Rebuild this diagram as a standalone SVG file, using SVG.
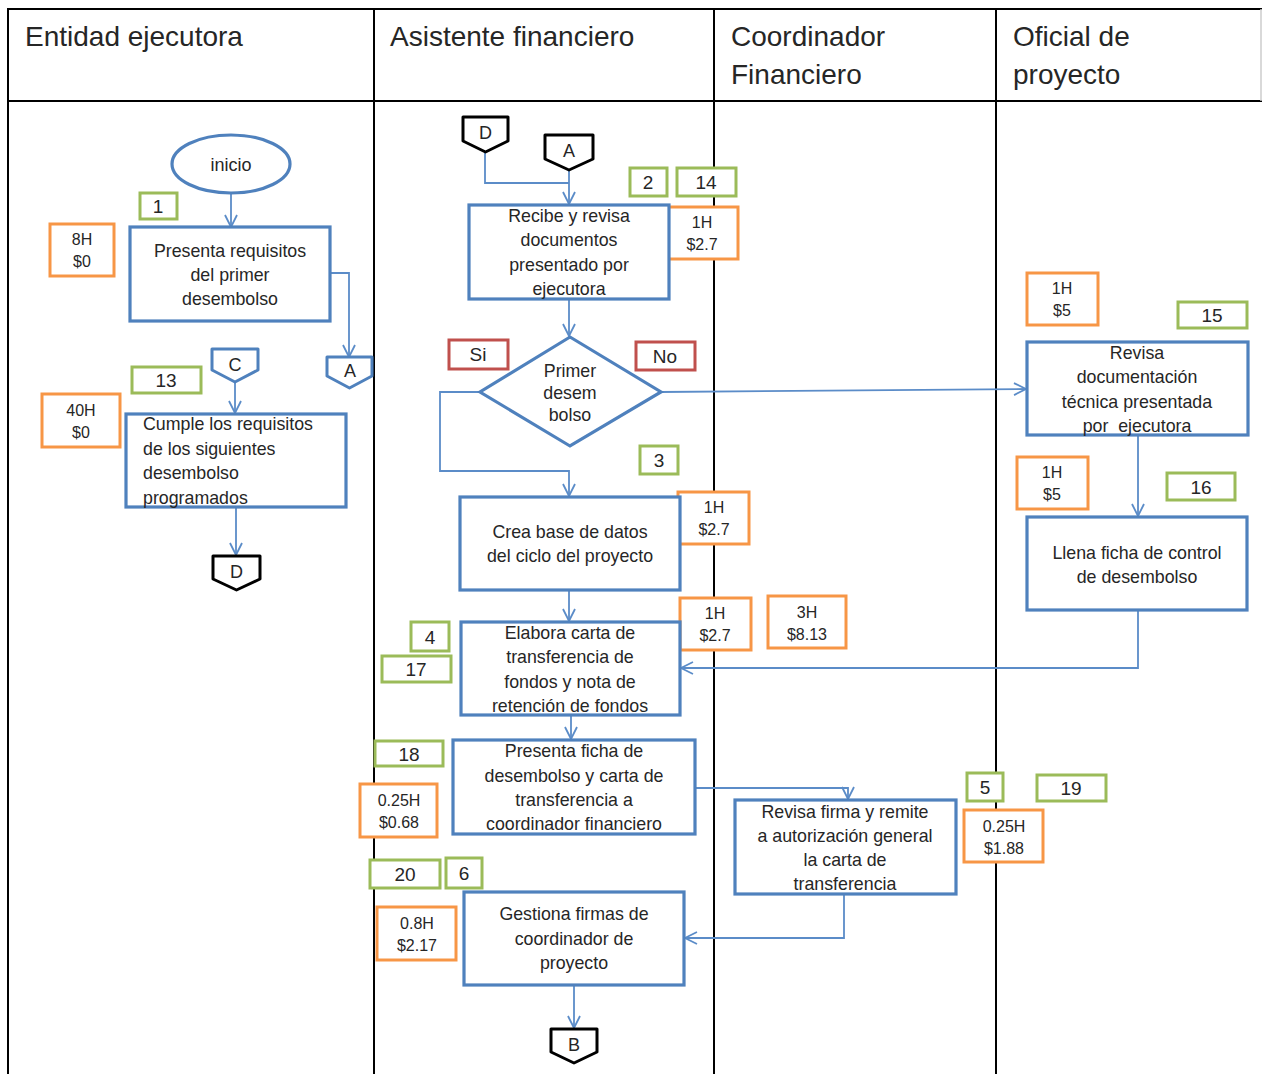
<svg xmlns="http://www.w3.org/2000/svg" width="1262" height="1074" viewBox="0 0 1262 1074">
  <style>
    .t { font-family: "Liberation Sans", Arial, sans-serif; fill: #262626; }
    .hd { font-size: 28px; }
    .bx { font-size: 17.8px; text-anchor: middle; }
    .bl { font-size: 17.8px; }
    .sm { font-size: 16px; text-anchor: middle; }
    .nm { font-size: 19px; text-anchor: middle; }
    .ct { font-size: 18px; text-anchor: middle; }
    .grid { stroke: #000; stroke-width: 2; fill: none; }
    .proc { fill: #fff; stroke: #4F81BD; stroke-width: 3.2; }
    .num { fill: #fff; stroke: #9BBB59; stroke-width: 3; }
    .cost { fill: #fff; stroke: #F79646; stroke-width: 3; }
    .dec { fill: #fff; stroke: #C0504D; stroke-width: 3; }
    .offb { fill: #fff; stroke: #4F81BD; stroke-width: 3; stroke-linejoin: round; }
    .offk { fill: #fff; stroke: #000; stroke-width: 3; stroke-linejoin: round; }
    .ln { fill: none; stroke: #5B8CC8; stroke-width: 1.8; }
    .arr { marker-end: url(#head); }
  </style>
  <defs>
    <marker id="head" markerUnits="userSpaceOnUse" viewBox="0 0 14 14" markerWidth="14" markerHeight="14" refX="13" refY="7" orient="auto">
      <path d="M1,1 L13,7 L1,13" fill="none" stroke="#5B8CC8" stroke-width="1.8"/>
    </marker>
  </defs>

  <rect width="1262" height="1074" fill="#fff"/>

  <!-- swimlane table -->
  <g id="lanes">
    <line class="grid" x1="7" y1="9" x2="1262" y2="9" stroke-width="3"/>
    <line class="grid" x1="7" y1="101" x2="1262" y2="101"/>
    <line class="grid" x1="8" y1="9" x2="8" y2="1074" stroke-width="2.5"/>
    <line class="grid" x1="374" y1="9" x2="374" y2="1074"/>
    <line class="grid" x1="714" y1="9" x2="714" y2="1074"/>
    <line class="grid" x1="996" y1="9" x2="996" y2="1074"/>
    <line x1="1261" y1="9" x2="1261" y2="101" stroke="#ccc" stroke-width="1.5"/>
    <text class="t hd" x="25" y="46">Entidad ejecutora</text>
    <text class="t hd" x="390" y="46">Asistente financiero</text>
    <text class="t hd" x="731" y="46">Coordinador</text>
    <text class="t hd" x="731" y="84">Financiero</text>
    <text class="t hd" x="1013" y="46">Oficial de</text>
    <text class="t hd" x="1013" y="84">proyecto</text>
  </g>

  <!-- connectors -->
  <g id="connectors">
    <line class="ln arr" x1="231" y1="193" x2="231" y2="227"/>
    <polyline class="ln arr" points="330,273 349,273 349,357"/>
    <line class="ln arr" x1="235" y1="382" x2="235" y2="413"/>
    <line class="ln arr" x1="236" y1="507" x2="236" y2="555"/>
    <polyline class="ln" points="485,152 485,183 569,183"/>
    <line class="ln arr" x1="569" y1="170" x2="569" y2="204"/>
    <line class="ln arr" x1="569" y1="299" x2="569" y2="336"/>
    <polyline class="ln arr" points="480,392 440,392 440,471 569,471 569,496"/>
    <line class="ln arr" x1="661" y1="392" x2="1026" y2="389"/>
    <line class="ln arr" x1="1138" y1="435" x2="1138" y2="516"/>
    <line class="ln arr" x1="569" y1="590" x2="569" y2="621"/>
    <polyline class="ln arr" points="1138,610 1138,668 681,668"/>
    <line class="ln arr" x1="571" y1="715" x2="571" y2="739"/>
    <polyline class="ln arr" points="695,788 848,788 848,799"/>
    <polyline class="ln arr" points="844,894 844,938 685,938"/>
    <line class="ln arr" x1="574" y1="985" x2="574" y2="1028"/>
  </g>

  <!-- Entidad ejecutora -->
  <g id="inicio">
    <ellipse class="proc" cx="231" cy="164" rx="59" ry="29"/>
    <text class="t ct" x="231" y="171" font-size="19">inicio</text>
  </g>
  <g id="n1">
    <rect class="num" x="140" y="193" width="37" height="26"/>
    <text class="t nm" x="158" y="213">1</text>
  </g>
  <g id="c1">
    <rect class="cost" x="50" y="224" width="64" height="52"/>
    <text class="t sm" x="82" y="245">8H</text>
    <text class="t sm" x="82" y="267">$0</text>
  </g>
  <g id="presenta-requisitos">
    <rect class="proc" x="130" y="227" width="200" height="94"/>
    <text class="t bx" x="230" y="257">Presenta requisitos</text>
    <text class="t bx" x="230" y="281">del primer</text>
    <text class="t bx" x="230" y="305">desembolso</text>
  </g>
  <g id="off-a1">
    <polygon class="offb" points="327,357 372,357 372,376 349.5,388 327,376"/>
    <text class="t ct" x="350" y="377">A</text>
  </g>
  <g id="off-c">
    <polygon class="offb" points="212,349 258,349 258,370 235,382 212,370"/>
    <text class="t ct" x="235" y="371">C</text>
  </g>
  <g id="n13">
    <rect class="num" x="132" y="367" width="69" height="26"/>
    <text class="t nm" x="166" y="387">13</text>
  </g>
  <g id="c13">
    <rect class="cost" x="42" y="394" width="78" height="53"/>
    <text class="t sm" x="81" y="416">40H</text>
    <text class="t sm" x="81" y="438">$0</text>
  </g>
  <g id="cumple-requisitos">
    <rect class="proc" x="126" y="414" width="220" height="93"/>
    <text class="t bl" x="143" y="430">Cumple los requisitos</text>
    <text class="t bl" x="143" y="455">de los siguientes</text>
    <text class="t bl" x="143" y="479">desembolso</text>
    <text class="t bl" x="143" y="504">programados</text>
  </g>
  <g id="off-d1">
    <polygon class="offk" points="213,556 260,556 260,579 236.5,590 213,579"/>
    <text class="t ct" x="236.5" y="578">D</text>
  </g>

  <!-- Asistente financiero -->
  <g id="off-d2">
    <polygon class="offk" points="463,117 508,117 508,141 485.5,152 463,141"/>
    <text class="t ct" x="485.5" y="139">D</text>
  </g>
  <g id="off-a2">
    <polygon class="offk" points="545,135 593,135 593,159 569,170 545,159"/>
    <text class="t ct" x="569" y="157">A</text>
  </g>
  <g id="n2">
    <rect class="num" x="630" y="168" width="37" height="28"/>
    <text class="t nm" x="648" y="189">2</text>
  </g>
  <g id="n14">
    <rect class="num" x="677" y="168" width="59" height="28"/>
    <text class="t nm" x="706" y="189">14</text>
  </g>
  <g id="c2">
    <rect class="cost" x="667" y="207" width="71" height="52"/>
    <text class="t sm" x="702" y="228">1H</text>
    <text class="t sm" x="702" y="250">$2.7</text>
  </g>
  <g id="recibe-revisa">
    <rect class="proc" x="469" y="205" width="200" height="94"/>
    <text class="t bx" x="569" y="222">Recibe y revisa</text>
    <text class="t bx" x="569" y="246">documentos</text>
    <text class="t bx" x="569" y="271">presentado por</text>
    <text class="t bx" x="569" y="295">ejecutora</text>
  </g>
  <g id="primer-desembolso">
    <polygon class="proc" points="570,337 661,392 570,446 480,392"/>
    <text class="t bx" x="570" y="377" font-size="16">Primer</text>
    <text class="t bx" x="570" y="399" font-size="16">desem</text>
    <text class="t bx" x="570" y="421" font-size="16">bolso</text>
  </g>
  <g id="lbl-si">
    <rect class="dec" x="449" y="340" width="59" height="29"/>
    <text class="t nm" x="478" y="361" font-size="18">Si</text>
  </g>
  <g id="lbl-no">
    <rect class="dec" x="636" y="342" width="59" height="28"/>
    <text class="t nm" x="665" y="363" font-size="18">No</text>
  </g>
  <g id="n3">
    <rect class="num" x="640" y="446" width="38" height="28"/>
    <text class="t nm" x="659" y="467">3</text>
  </g>
  <g id="c3">
    <rect class="cost" x="678" y="492" width="71" height="52"/>
    <text class="t sm" x="714" y="513">1H</text>
    <text class="t sm" x="714" y="535">$2.7</text>
  </g>
  <g id="crea-base">
    <rect class="proc" x="460" y="497" width="220" height="93"/>
    <text class="t bx" x="570" y="538">Crea base de datos</text>
    <text class="t bx" x="570" y="562">del ciclo del proyecto</text>
  </g>
  <g id="n4">
    <rect class="num" x="411" y="622" width="38" height="29"/>
    <text class="t nm" x="430" y="644">4</text>
  </g>
  <g id="n17">
    <rect class="num" x="382" y="656" width="69" height="26"/>
    <text class="t nm" x="416" y="676">17</text>
  </g>
  <g id="c4">
    <rect class="cost" x="680" y="598" width="71" height="52"/>
    <text class="t sm" x="715" y="619">1H</text>
    <text class="t sm" x="715" y="641">$2.7</text>
  </g>
  <g id="c17">
    <rect class="cost" x="768" y="596" width="78" height="52"/>
    <text class="t sm" x="807" y="618">3H</text>
    <text class="t sm" x="807" y="640">$8.13</text>
  </g>
  <g id="elabora-carta">
    <rect class="proc" x="461" y="622" width="219" height="93"/>
    <text class="t bx" x="570" y="639">Elabora carta de</text>
    <text class="t bx" x="570" y="663">transferencia de</text>
    <text class="t bx" x="570" y="688">fondos y nota de</text>
    <text class="t bx" x="570" y="712">retención de fondos</text>
  </g>
  <g id="n18">
    <rect class="num" x="375" y="741" width="68" height="25"/>
    <text class="t nm" x="409" y="761">18</text>
  </g>
  <g id="c18">
    <rect class="cost" x="360" y="784" width="77" height="53"/>
    <text class="t sm" x="399" y="806">0.25H</text>
    <text class="t sm" x="399" y="828">$0.68</text>
  </g>
  <g id="presenta-ficha">
    <rect class="proc" x="453" y="740" width="242" height="94"/>
    <text class="t bx" x="574" y="757">Presenta ficha de</text>
    <text class="t bx" x="574" y="782">desembolso y carta de</text>
    <text class="t bx" x="574" y="806">transferencia a</text>
    <text class="t bx" x="574" y="830">coordinador financiero</text>
  </g>
  <g id="n20">
    <rect class="num" x="370" y="860" width="70" height="28"/>
    <text class="t nm" x="405" y="881">20</text>
  </g>
  <g id="n6">
    <rect class="num" x="446" y="858" width="36" height="30"/>
    <text class="t nm" x="464" y="880">6</text>
  </g>
  <g id="c6">
    <rect class="cost" x="377" y="907" width="79" height="53"/>
    <text class="t sm" x="417" y="929">0.8H</text>
    <text class="t sm" x="417" y="951">$2.17</text>
  </g>
  <g id="gestiona-firmas">
    <rect class="proc" x="464" y="892" width="220" height="93"/>
    <text class="t bx" x="574" y="920">Gestiona firmas de</text>
    <text class="t bx" x="574" y="945">coordinador de</text>
    <text class="t bx" x="574" y="969">proyecto</text>
  </g>
  <g id="off-b">
    <polygon class="offk" points="551,1029 597,1029 597,1052 574,1063 551,1052"/>
    <text class="t ct" x="574" y="1051">B</text>
  </g>

  <!-- Coordinador Financiero -->
  <g id="revisa-firma">
    <rect class="proc" x="735" y="800" width="221" height="94"/>
    <text class="t bx" x="845" y="818">Revisa firma y remite</text>
    <text class="t bx" x="845" y="842">a autorización general</text>
    <text class="t bx" x="845" y="866">la carta de</text>
    <text class="t bx" x="845" y="890">transferencia</text>
  </g>
  <g id="n5">
    <rect class="num" x="967" y="773" width="36" height="28"/>
    <text class="t nm" x="985" y="794">5</text>
  </g>
  <g id="n19">
    <rect class="num" x="1037" y="775" width="69" height="26"/>
    <text class="t nm" x="1071" y="795">19</text>
  </g>
  <g id="c5">
    <rect class="cost" x="964" y="810" width="79" height="52"/>
    <text class="t sm" x="1004" y="832">0.25H</text>
    <text class="t sm" x="1004" y="854">$1.88</text>
  </g>

  <!-- Oficial de proyecto -->
  <g id="c15">
    <rect class="cost" x="1027" y="273" width="71" height="52"/>
    <text class="t sm" x="1062" y="294">1H</text>
    <text class="t sm" x="1062" y="316">$5</text>
  </g>
  <g id="n15">
    <rect class="num" x="1178" y="302" width="69" height="26"/>
    <text class="t nm" x="1212" y="322">15</text>
  </g>
  <g id="revisa-documentacion">
    <rect class="proc" x="1027" y="342" width="221" height="93"/>
    <text class="t bx" x="1137" y="359">Revisa</text>
    <text class="t bx" x="1137" y="383">documentación</text>
    <text class="t bx" x="1137" y="408">técnica presentada</text>
    <text class="t bx" x="1137" y="432" style="white-space:pre">por  ejecutora</text>
  </g>
  <g id="c16">
    <rect class="cost" x="1017" y="457" width="71" height="52"/>
    <text class="t sm" x="1052" y="478">1H</text>
    <text class="t sm" x="1052" y="500">$5</text>
  </g>
  <g id="n16">
    <rect class="num" x="1167" y="473" width="68" height="27"/>
    <text class="t nm" x="1201" y="494">16</text>
  </g>
  <g id="llena-ficha">
    <rect class="proc" x="1027" y="517" width="220" height="93"/>
    <text class="t bx" x="1137" y="559">Llena ficha de control</text>
    <text class="t bx" x="1137" y="583">de desembolso</text>
  </g>
</svg>
